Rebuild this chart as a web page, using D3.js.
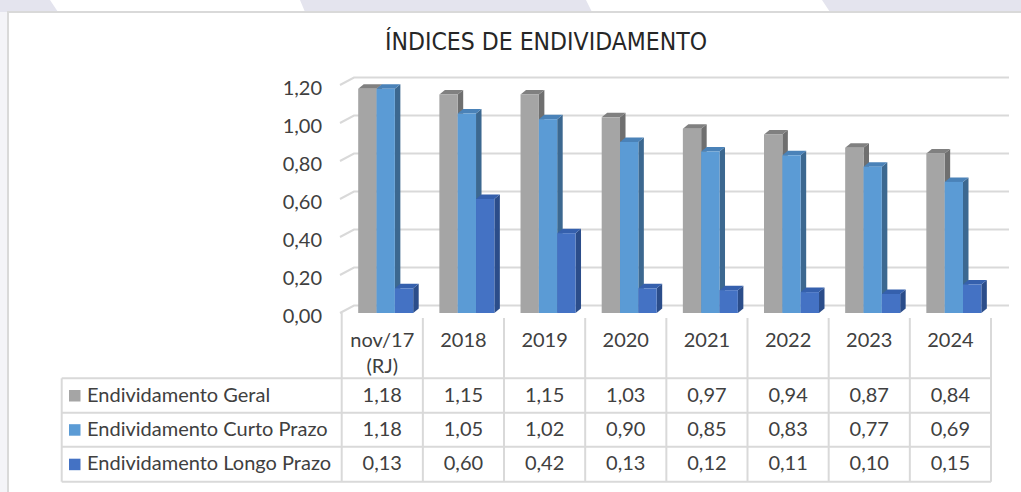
<html>
    <head>
        <meta charset="utf-8">
        <title>Índices de endividamento</title>
        <style>
            body { margin: 0; }
            text { font-family: Lato, "Open Sans", sans-serif; fill: #404040; }
        </style>
    </head>
    <body>
        <svg></svg>

        <script src="https://d3js.org/d3.v7.min.js"></script>
        <script>
            // data
            const categories = ["nov/17\n(RJ)", "2018", "2019", "2020", "2021", "2022", "2023", "2024"];
            const seriesNames = ["Endividamento Geral", "Endividamento Curto Prazo", "Endividamento Longo Prazo"];
            const geral = [1.18, 1.15, 1.15, 1.03, 0.97, 0.94, 0.87, 0.84];
            const curto = [1.18, 1.05, 1.02, 0.90, 0.85, 0.83, 0.77, 0.69];
            const longo = [0.13, 0.60, 0.42, 0.13, 0.12, 0.11, 0.10, 0.15];
            const yTicks = [0, 0.2, 0.4, 0.6, 0.8, 1.0, 1.2];

            const values = [geral, curto, longo];
            const colors = ["#a5a5a5", "#5b9bd5", "#4472c4"];
            const topColors = ["#808080", "#4a82b8", "#3560ad"];
            const sideColors = ["#6f6f6f", "#3c6890", "#2b4d8a"];

            const width = 1021, height = 492;
            const svg = d3.select("svg").attr("width", width).attr("height", height);

            // page background behind the chart box
            svg.append("rect").attr("width", width).attr("height", height).attr("fill", "#e4e4ee");
            svg.append("path").attr("fill", "#ffffff")
                .attr("d", "M50,0 L300,0 L305,12 L58,12 Z M586,0 L822,0 L830,12 L592,12 Z");
            svg.append("rect").attr("x", 0).attr("y", 12).attr("width", 8).attr("height", height)
                .attr("fill", "#f4f4f8");

            // chart box
            svg.append("rect").attr("x", 8).attr("y", 12).attr("width", width).attr("height", height)
                .attr("fill", "#ffffff").attr("stroke", "#d9d9d9").attr("stroke-width", 2);

            svg.append("text")
                .attr("x", 546).attr("y", 50)
                .attr("text-anchor", "middle")
                .attr("textLength", 322).attr("lengthAdjust", "spacingAndGlyphs")
                .style("font-family", "'Liberation Sans Narrow', 'DejaVu Sans Condensed', sans-serif")
                .style("font-size", "24px").style("fill", "#262626")
                .text("ÍNDICES DE ENDIVIDAMENTO");

            // scales
            const x0 = d3.scaleBand().domain(categories).range([341.7, 991]);
            const x1 = d3.scaleBand().domain(d3.range(3)).range([16.5, 16.5 + 55]);
            const y = d3.scaleLinear().domain([0, 1.2]).range([313, 85]);

            // depth of the 3D back wall and of each bar
            const wallDx = 14, wallDy = 7.5;
            const barDx = 5.5, barDy = 4.5;
            const wallRight = 1009;
            const fontSize = "20px";

            // gridlines on the back wall plus the left diagonals
            const grid = svg.append("g").attr("stroke", "#d9d9d9").attr("stroke-width", 2).attr("fill", "none");
            grid.selectAll("path").data(yTicks).join("path")
                .attr("d", d => "M340," + y(d) + " L" + (340 + wallDx) + "," + (y(d) - wallDy) + " L" + wallRight + "," + (y(d) - wallDy));

            svg.append("g").selectAll("text").data(yTicks).join("text")
                .attr("x", 322).attr("y", d => y(d) + 5)
                .attr("text-anchor", "end").attr("dominant-baseline", "middle")
                .style("font-size", fontSize)
                .text(d => d3.format(".2f")(d).replace(".", ","));

            // bars, each with a front, top and side face
            const groups = svg.append("g").selectAll("g").data(categories).join("g")
                .attr("transform", d => "translate(" + x0(d) + ",0)");

            groups.each(function(cat, ci) {
                const g = d3.select(this);
                values.forEach(function(arr, si) {
                    const bx = x1(si), bw = x1.bandwidth();
                    const top = y(arr[ci]), base = y(0);
                    g.append("path").attr("fill", sideColors[si])
                        .attr("d", "M" + (bx + bw) + "," + top + " L" + (bx + bw + barDx) + "," + (top - barDy) +
                            " L" + (bx + bw + barDx) + "," + (base - barDy) + " L" + (bx + bw) + "," + base + " Z");
                    g.append("path").attr("fill", topColors[si])
                        .attr("d", "M" + bx + "," + top + " L" + (bx + barDx) + "," + (top - barDy) +
                            " L" + (bx + bw + barDx) + "," + (top - barDy) + " L" + (bx + bw) + "," + top + " Z");
                    g.append("rect").attr("fill", colors[si])
                        .attr("x", bx).attr("y", top).attr("width", bw).attr("height", base - top);
                });
            });

            // data table under the plot
            const tableLeft = 61.7;
            const rowTops = [378.3, 412.7, 446.7, 481.7];
            const lines = svg.append("g").attr("stroke", "#d9d9d9").attr("stroke-width", 2);

            const colEdges = categories.map(c => x0(c)).concat([x0.range()[1]]);
            lines.selectAll("line.hv").data(colEdges).join("line")
                .attr("x1", d => d).attr("x2", d => d)
                .attr("y1", (d, i) => i === 0 ? 313 : 318).attr("y2", rowTops[3]);
            lines.selectAll("line.rh").data(rowTops).join("line")
                .attr("x1", tableLeft).attr("x2", x0.range()[1])
                .attr("y1", d => d).attr("y2", d => d);
            lines.append("line")
                .attr("x1", tableLeft).attr("x2", tableLeft)
                .attr("y1", rowTops[0]).attr("y2", rowTops[3]);

            // header cells
            const head = svg.append("g").selectAll("text").data(categories).join("text")
                .attr("x", d => x0(d) + x0.bandwidth() / 2)
                .attr("y", 347)
                .attr("text-anchor", "middle")
                .style("font-size", fontSize);
            head.each(function(d) {
                d.split("\n").forEach((part, i) => {
                    d3.select(this).append("tspan")
                        .attr("x", x0(d) + x0.bandwidth() / 2)
                        .attr("dy", i === 0 ? 0 : 26)
                        .text(part);
                });
            });

            // legend rows
            seriesNames.forEach(function(name, si) {
                const mid = (rowTops[si] + rowTops[si + 1]) / 2;
                svg.append("rect")
                    .attr("x", 69).attr("y", mid - 5.5).attr("width", 11.5).attr("height", 11.5)
                    .attr("fill", colors[si]);
                svg.append("text")
                    .attr("x", 87).attr("y", mid + 1)
                    .attr("dominant-baseline", "middle")
                    .style("font-size", fontSize)
                    .text(name);
                svg.append("g").selectAll("text").data(values[si]).join("text")
                    .attr("x", (d, i) => x0(categories[i]) + x0.bandwidth() / 2)
                    .attr("y", mid + 1)
                    .attr("text-anchor", "middle").attr("dominant-baseline", "middle")
                    .style("font-size", fontSize)
                    .text(d => d3.format(".2f")(d).replace(".", ","));
            });
        </script>
    </body>
</html>
